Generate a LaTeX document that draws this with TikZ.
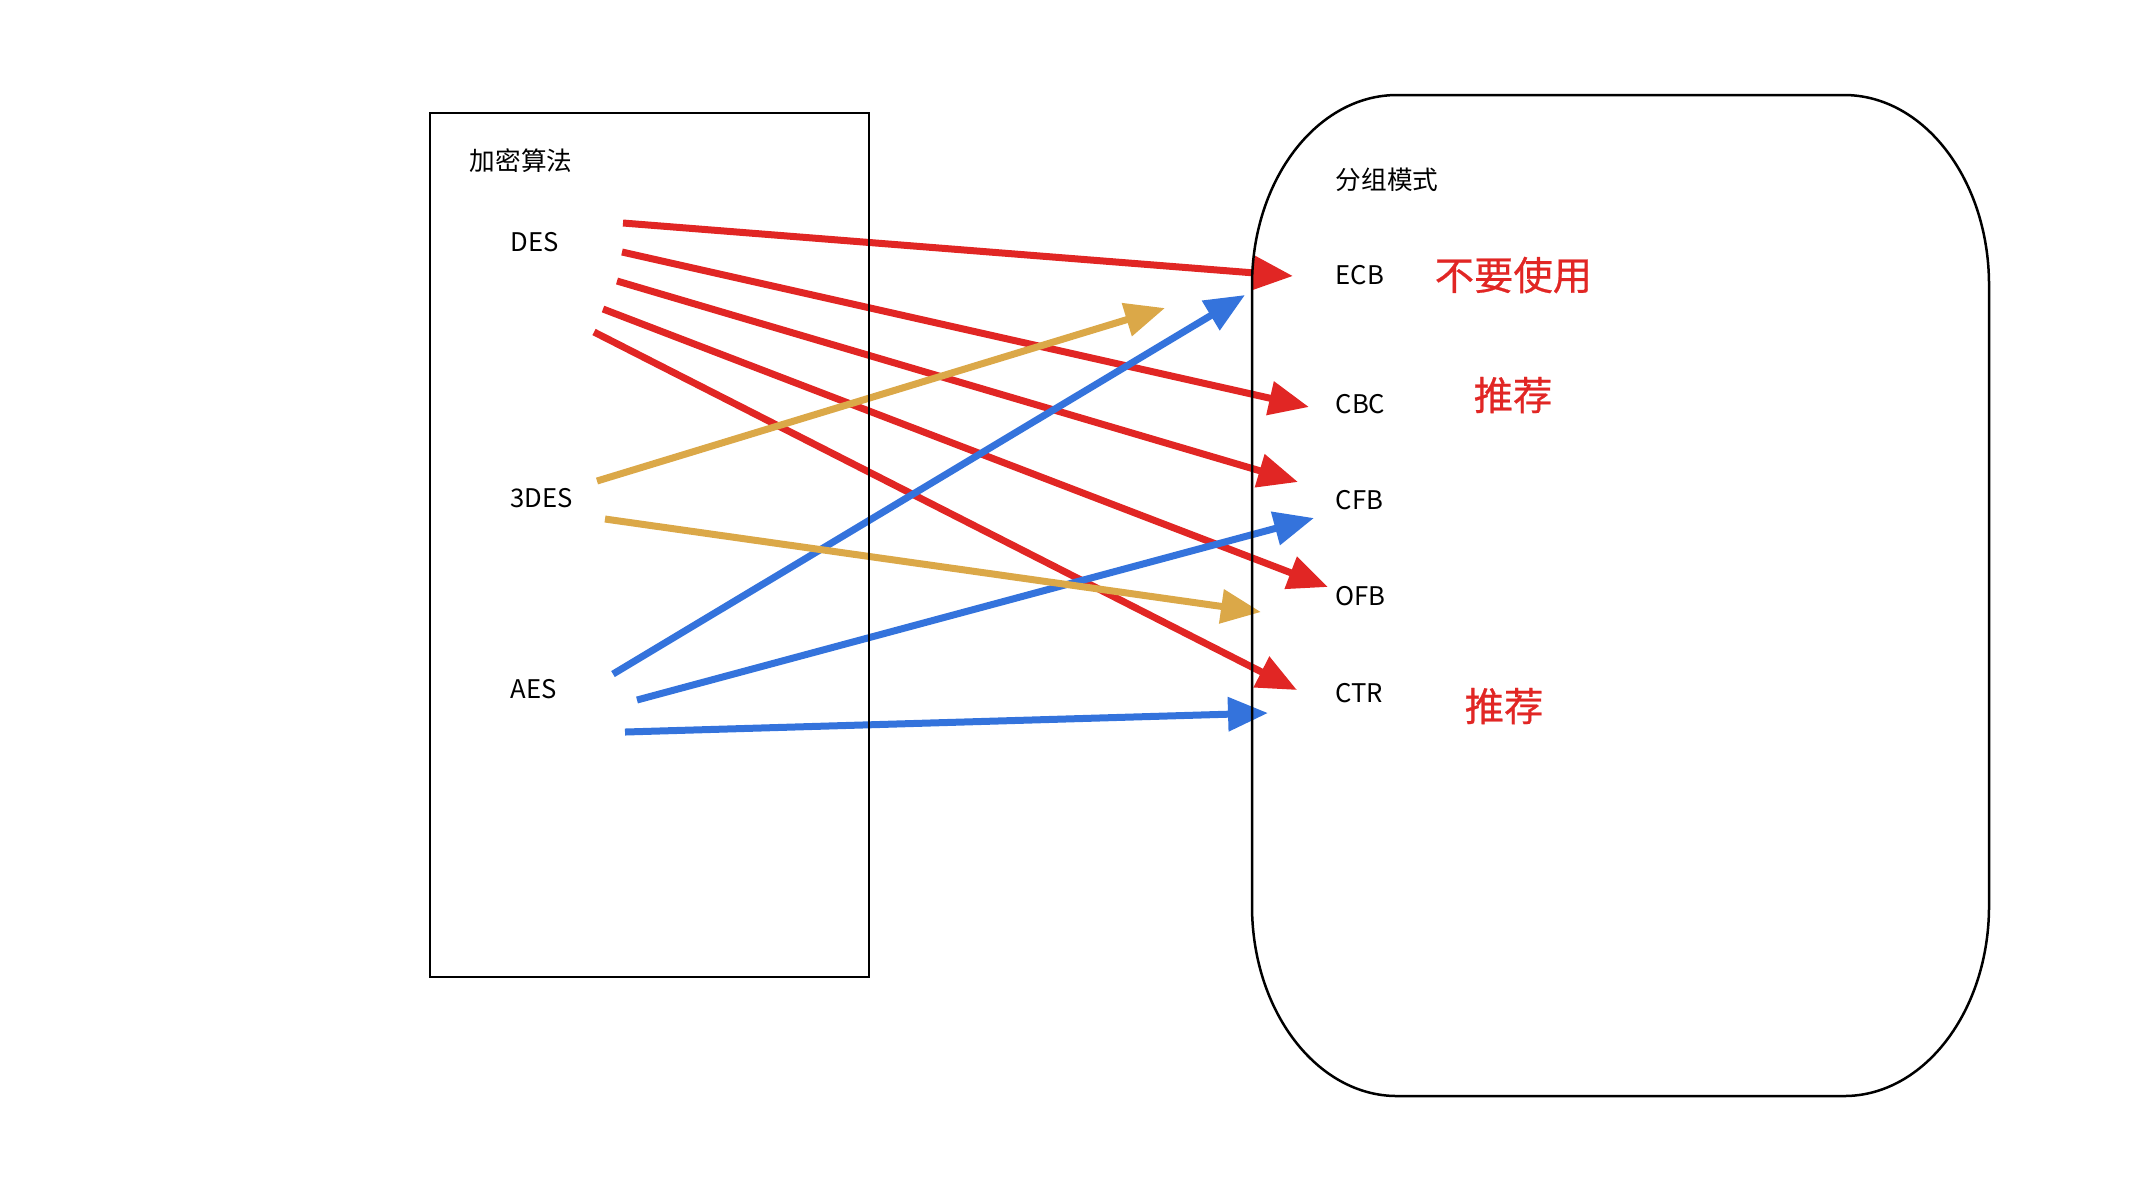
\documentclass[tikz,border=0pt]{standalone}
\usepackage{fontspec}
\setmainfont{Noto Sans CJK SC}
\newfontfamily\notefont[FakeBold=0.6]{Noto Sans CJK SC}
\usetikzlibrary{arrows.meta}
\definecolor{linered}{HTML}{E12624}
\definecolor{lineyellow}{HTML}{DBA848}
\definecolor{lineblue}{HTML}{3473DC}
\tikzset{
  lbl/.style={anchor=west, inner sep=0pt, font=\fontsize{7.3}{9}\selectfont},
  note/.style={anchor=west, inner sep=0pt, text=linered, font=\notefont\fontsize{11.2}{13}\selectfont},
  link/.style={line width=0.7mm, -{Triangle[length=4mm, width=3.3mm]}},
  frame/.style={line width=0.25mm},
}

\begin{document}
\begin{tikzpicture}[x=0.1mm, y=-0.1mm]
\useasboundingbox (0,0) rectangle (2138,1190);

% start and end points of the arrows
\coordinate (des-a) at (623,223);
\coordinate (des-b) at (622,252);
\coordinate (des-c) at (617,281);
\coordinate (des-d) at (603,309);
\coordinate (des-e) at (594,332);
\coordinate (tdes-a) at (597,481);
\coordinate (tdes-b) at (605,519);
\coordinate (aes-a) at (613,674);
\coordinate (aes-b) at (637,700);
\coordinate (aes-c) at (625,732);
\coordinate (ecb-r) at (1293,276);
\coordinate (cbc-r) at (1309,407);
\coordinate (cfb-r) at (1298,482);
\coordinate (ofb-r) at (1328,587);
\coordinate (ctr-r) at (1297,690);
\coordinate (ecb-y) at (1165,308);
\coordinate (ofb-y) at (1261,612);
\coordinate (ecb-b) at (1245,295);
\coordinate (cfb-b) at (1314,518);
\coordinate (ctr-b) at (1268,713);

\foreach \from/\to/\col in {des-a/ecb-r/linered, des-b/cbc-r/linered, des-c/cfb-r/linered,
  des-d/ofb-r/linered, des-e/ctr-r/linered, aes-a/ecb-b/lineblue, aes-b/cfb-b/lineblue,
  aes-c/ctr-b/lineblue, tdes-a/ecb-y/lineyellow, tdes-b/ofb-y/lineyellow}
  \draw[link, \col] (\from) -- (\to);

% the two boxes
\draw[frame] (430,113) rectangle (869,977);
\draw[frame] (1252,285) arc[start angle=180, end angle=270, x radius=145, y radius=190]
  -- (1844,95) arc[start angle=270, end angle=360, x radius=145, y radius=190]
  -- (1989,906) arc[start angle=0, end angle=90, x radius=145, y radius=190]
  -- (1397,1096) arc[start angle=90, end angle=180, x radius=145, y radius=190] -- cycle;

% labels
\node[lbl] (alg) at (469,161) {加密算法};
\node[lbl] (des) at (510,242) {DES};
\node[lbl] (tdes) at (510,498) {3DES};
\node[lbl] (aes) at (510,689) {AES};

\node[lbl] (mode) at (1335,180) {分组模式};
\node[lbl] (ecb) at (1335,275) {ECB};
\node[lbl] (cbc) at (1335,404) {CBC};
\node[lbl] (cfb) at (1335,500) {CFB};
\node[lbl] (ofb) at (1335,596) {OFB};
\node[lbl] (ctr) at (1335,693) {CTR};

\node[note] (ecb-note) at (1434,275) {不要使用};
\node[note] (cbc-note) at (1473,395) {推荐};
\node[note] (ctr-note) at (1464,706) {推荐};

\end{tikzpicture}
\end{document}
